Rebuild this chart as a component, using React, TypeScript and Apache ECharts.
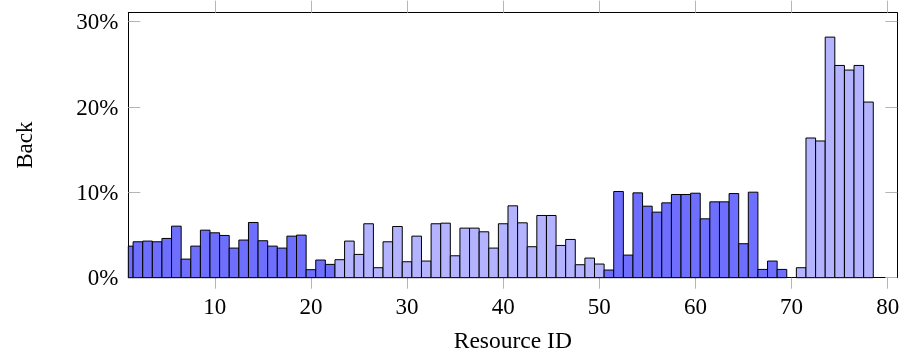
import React, { useEffect, useRef } from "react";
import * as echarts from "echarts";

// Resource IDs (x positions of the bars)
const resourceIds: number[] = [
  1, 2, 3, 4, 5, 6, 7, 8, 9, 10, 11, 12, 13, 14, 15, 16, 17, 18, 19, 20,
  21, 22, 23, 24, 25, 26, 27, 28, 29, 30, 31, 32, 33, 34, 35, 36, 37, 38, 39, 40,
  41, 42, 43, 44, 45, 46, 47, 48, 49, 50, 51, 52, 53, 54, 55, 56, 57, 58, 59, 60,
  61, 62, 63, 64, 65, 66, 67, 68, 69, 70, 71, 72, 73, 74, 75, 76, 77, 78,
];

// Share of "Back" per resource, in percent
const backShare: number[] = [
  3.70, 4.21, 4.29, 4.21, 4.60, 6.04, 2.18, 3.70, 5.57, 5.26,
  4.95, 3.47, 4.41, 6.47, 4.33, 3.70, 3.47, 4.87, 4.99, 0.94,
  2.07, 1.56, 2.11, 4.29, 2.73, 6.32, 1.17, 4.21, 6.00, 1.87,
  4.87, 1.95, 6.32, 6.39, 2.57, 5.81, 5.81, 5.38, 3.47, 6.32,
  8.42, 6.43, 3.63, 7.29, 7.29, 3.78, 4.48, 1.52, 2.30, 1.60,
  0.90, 10.10, 2.65, 9.94, 8.38, 7.68, 8.77, 9.75, 9.75, 9.90,
  6.90, 8.89, 8.89, 9.86, 3.98, 10.02, 0.97, 1.95, 0.97, 0,
  1.17, 16.37, 16.02, 28.19, 24.87, 24.33, 24.87, 20.58,
];

// Group of each resource: "d" = dark blue, "l" = light blue
const tone: string[] = [
  "d", "d", "d", "d", "d", "d", "d", "d", "d", "d",
  "d", "d", "d", "d", "d", "d", "d", "d", "d", "d",
  "d", "d", "l", "l", "l", "l", "l", "l", "l", "l",
  "l", "l", "l", "l", "l", "l", "l", "l", "l", "l",
  "l", "l", "l", "l", "l", "l", "l", "l", "l", "l",
  "d", "d", "d", "d", "d", "d", "d", "d", "d", "d",
  "d", "d", "d", "d", "d", "d", "d", "d", "d", "d",
  "l", "l", "l", "l", "l", "l", "l", "l",
];

const xTicks: number[] = [10, 20, 30, 40, 50, 60, 70, 80];
const yTicks: number[] = [0, 10, 20, 30];

const DARK = "#6f6fff";
const LIGHT = "#b3b3ff";
const FONT = "'Liberation Serif', 'Times New Roman', serif";
const TICK = "#b5b5b5";

export default function App() {
  const ref = useRef<HTMLDivElement>(null);

  useEffect(() => {
    if (!ref.current) return;
    const chart = echarts.init(ref.current, null, { renderer: "svg" });

    const data = resourceIds.map((id, i) => [id, backShare[i]]);

    const baseX = {
      type: "value" as const,
      min: 1,
      max: 81,
      splitLine: { show: false },
      axisLine: { show: true, onZero: false, lineStyle: { color: "#000", width: 1 } },
    };
    const baseY = {
      type: "value" as const,
      min: 0,
      max: 31.05,
      splitLine: { show: false },
      axisLine: { show: true, onZero: false, lineStyle: { color: "#000", width: 1 } },
    };

    chart.setOption({
      animation: false,
      grid: { left: 128.3, right: 10.7, top: 12.7, bottom: 80.3, containLabel: false },
      xAxis: [
        {
          ...baseX,
          position: "bottom",
          name: "Resource ID",
          nameLocation: "middle",
          nameGap: 50,
          nameTextStyle: { fontFamily: FONT, fontSize: 23.5, color: "#000" },
          axisTick: { show: true, inside: false, length: 11, customValues: xTicks, lineStyle: { color: TICK, width: 1 } },
          axisLabel: {
            show: true,
            customValues: xTicks,
            margin: 17,
            fontFamily: FONT,
            fontSize: 23,
            color: "#000",
          },
        },
        {
          ...baseX,
          position: "top",
          axisTick: { show: true, inside: false, length: 12, customValues: xTicks, lineStyle: { color: TICK, width: 1 } },
          axisLabel: { show: false },
        },
      ],
      yAxis: [
        {
          ...baseY,
          position: "left",
          name: "Back",
          nameLocation: "middle",
          nameRotate: 90,
          nameGap: 92,
          nameTextStyle: { fontFamily: FONT, fontSize: 23, color: "#000" },
          axisTick: { show: true, inside: true, length: 12, customValues: yTicks, lineStyle: { color: TICK, width: 1 } },
          axisLabel: {
            show: true,
            customValues: yTicks,
            margin: 10,
            formatter: "{value}%",
            fontFamily: FONT,
            fontSize: 23,
            color: "#000",
          },
        },
        {
          ...baseY,
          position: "right",
          axisTick: { show: true, inside: true, length: 12, customValues: yTicks, lineStyle: { color: TICK, width: 1 } },
          axisLabel: { show: false },
        },
      ],
      series: [
        {
          type: "custom",
          xAxisIndex: 0,
          yAxisIndex: 0,
          encode: { x: 0, y: 1 },
          data,
          z: 1,
          renderItem: (params: any, api: any) => {
            const x = api.value(0);
            const v = api.value(1);
            if (!v) return null;
            const p0 = api.coord([x - 0.5, 0]);
            const p1 = api.coord([x + 0.5, v]);
            const cs = params.coordSys;
            const shape = echarts.graphic.clipRectByRect(
              { x: p0[0], y: p1[1], width: p1[0] - p0[0], height: p0[1] - p1[1] },
              { x: cs.x, y: cs.y, width: cs.width, height: cs.height }
            );
            if (!shape) return null;
            return {
              type: "rect",
              shape,
              style: {
                fill: tone[params.dataIndex] === "d" ? DARK : LIGHT,
                stroke: "#000",
                lineWidth: 1,
              },
            };
          },
        },
      ],
    });

    return () => chart.dispose();
  }, []);

  return (
    <div
      ref={ref}
      style={{ position: "fixed", left: 0, top: 0, width: 908, height: 358 }}
    />
  );
}
